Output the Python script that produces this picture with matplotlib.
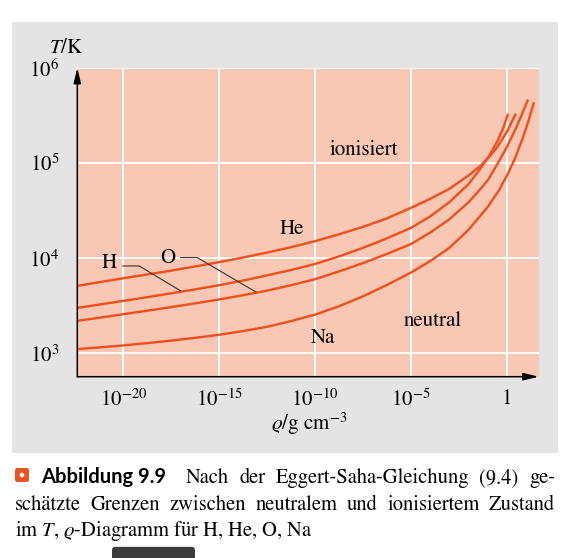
import numpy as np
import matplotlib.pyplot as plt
from matplotlib.patches import Rectangle, FancyBboxPatch, Ellipse

plt.rcParams['font.family'] = ['STIXGeneral', 'DejaVu Serif']
plt.rcParams['mathtext.fontset'] = 'stix'

# log10(rho / g cm^-3) and log10(T / K)
he_rho = [-22.4, -21.2, -20, -18.75, -17.5, -16.25, -15, -13.75, -12.5, -11.25, -10, -8.75,
          -7.5, -6.25, -5, -4, -3, -2, -1.36, -0.9, -0.5, 0, 0.46]
he_T = [3.71, 3.75, 3.79, 3.83, 3.87, 3.914, 3.96, 4.008, 4.06, 4.117, 4.18, 4.252,
        4.33, 4.42, 4.53, 4.625, 4.73, 4.87, 4.975, 5.07, 5.17, 5.33, 5.52]

h_rho = [-22.4, -21.2, -20, -18.75, -17.5, -16.25, -15, -13.75, -12.5, -11.25, -10, -8.75,
         -7.5, -6.25, -5, -4, -3, -2, -1.36, -0.9, -0.5, -0.2, 0.06]
h_T = [3.478, 3.515, 3.552, 3.591, 3.632, 3.673, 3.717, 3.766, 3.82, 3.877, 3.94, 4.02,
       4.11, 4.21, 4.32, 4.44, 4.59, 4.78, 4.95, 5.086, 5.23, 5.365, 5.52]

o_rho = [-22.4, -21.2, -20, -18.75, -17.5, -16.25, -15, -13.75, -12.5, -11.25, -10, -8.75,
         -7.5, -6.25, -5, -4, -3, -2, -1.5, -1, -0.5, 0, 0.5, 1.1]
o_T = [3.342, 3.376, 3.412, 3.449, 3.487, 3.526, 3.567, 3.612, 3.66, 3.717, 3.78, 3.862,
       3.95, 4.046, 4.15, 4.27, 4.41, 4.59, 4.70, 4.82, 4.99, 5.17, 5.38, 5.668]

na_rho = [-22.4, -21.2, -20, -18.75, -17.5, -16.25, -15, -13.75, -12.5, -11.25, -10, -8.75,
          -7.5, -6.25, -5, -4, -3, -2, -1, -0.4, 0, 0.4, 0.8, 1.1, 1.41]
na_T = [3.045, 3.064, 3.084, 3.108, 3.134, 3.164, 3.196, 3.235, 3.28, 3.34, 3.408, 3.496,
        3.60, 3.72, 3.85, 3.97, 4.11, 4.30, 4.54, 4.72, 4.87, 5.04, 5.25, 5.43, 5.64]

x_ticks = [1e-20, 1e-15, 1e-10, 1e-5, 1]
x_labels = ['$10^{-20}$', '$10^{-15}$', '$10^{-10}$', '$10^{-5}$', '1']
y_ticks = [1e3, 1e4, 1e5, 1e6]
y_labels = ['$10^{3}$', '$10^{4}$', '$10^{5}$', '$10^{6}$']

W, H = 577, 558
line_col = '#f04e1a'

fig = plt.figure(figsize=(W / 100, H / 100), dpi=100)

# grey panel behind the chart
fig.add_artist(Rectangle((11.8 / W, 1 - 452.7 / H), 545.9 / W, 430.4 / H,
                         transform=fig.transFigure, facecolor='#e4e4e4',
                         edgecolor='none', zorder=-1))

ax = fig.add_axes([77.3 / W, 1 - 376.7 / H, 461.3 / W, 308.7 / H])
ax.set_facecolor('#f9c8b5')
ax.set_xscale('log')
ax.set_yscale('log')
ax.set_xlim(10 ** -22.4, 10 ** 1.65)
ax.set_ylim(10 ** 2.755, 1e6)

ax.set_xticks(x_ticks)
ax.set_xticklabels(x_labels)
ax.set_yticks(y_ticks)
ax.set_yticklabels(y_labels)
ax.minorticks_off()
ax.tick_params(axis='both', length=0, labelsize=15)
ax.tick_params(axis='x', pad=9)
ax.tick_params(axis='y', pad=13)
ax.grid(True, color='white', lw=1.4)
ax.set_axisbelow(True)
for s in ax.spines.values():
    s.set_visible(False)

for rho, T in [(he_rho, he_T), (h_rho, h_T), (o_rho, o_T), (na_rho, na_T)]:
    ax.plot(10 ** np.array(rho), 10 ** np.array(T), color=line_col, lw=1.7,
            solid_capstyle='butt', solid_joinstyle='round')

# axis arrows
arrow = dict(arrowstyle='-|>,head_length=0.9,head_width=0.22', color='black',
             lw=1.1, shrinkA=0, shrinkB=0)
ax.annotate('', xy=(0, 1), xytext=(0, 0), xycoords='axes fraction', arrowprops=arrow)
ax.annotate('', xy=(1, 0), xytext=(0, 0), xycoords='axes fraction', arrowprops=arrow)

# labels inside the chart
fs = 15
ax.text(10 ** -5.675, 10 ** 5.088, 'ionisiert', fontsize=fs, ha='right', va='baseline')
ax.text(10 ** -11.2, 10 ** 4.252, 'He', fontsize=fs, ha='center', va='baseline')
ax.text(10 ** -3.87, 10 ** 3.287, 'neutral', fontsize=fs, ha='center', va='baseline')
ax.text(10 ** -9.57, 10 ** 3.111, 'Na', fontsize=fs, ha='center', va='baseline')
ax.text(10 ** -20.75, 10 ** 3.898, 'H', fontsize=fs, ha='center', va='baseline')
ax.text(10 ** -17.7, 10 ** 3.951, 'O', fontsize=fs, ha='center', va='baseline')

# leader lines
ax.plot(10 ** np.array([-20.03, -19.17, -17.01]), 10 ** np.array([3.919, 3.919, 3.657]),
        color='#333333', lw=0.8)
ax.plot(10 ** np.array([-17.01, -16.15, -13.09]), 10 ** np.array([4.007, 4.007, 3.646]),
        color='#333333', lw=0.8)

# axis titles
fig.text(66 / W, 1 - 48 / H, '$T$/K', fontsize=fs, ha='center', va='center')
fig.text(309 / W, 1 - 424 / H, r'$\varrho$/g cm$^{-3}$', fontsize=fs, ha='center', va='center')

# caption
renderer = fig.canvas.get_renderer()
cap_fs = 14.8


def justify(words, y, x0, x1):
    texts = [fig.text(0, 1 - y / H, w, fontsize=cap_fs, va='baseline') for w in words]
    widths = [t.get_window_extent(renderer).width for t in texts]
    gap = (x1 - x0 - sum(widths)) / (len(words) - 1)
    x = x0
    for t, w in zip(texts, widths):
        t.set_x(x / W)
        x += w + gap


fig.add_artist(FancyBboxPatch((15 / W, 1 - 482 / H), 14 / W, 14 / H,
                              boxstyle='round,pad=0,rounding_size=0.004',
                              transform=fig.transFigure, facecolor='#e9531f',
                              edgecolor='none'))
fig.add_artist(Ellipse((22 / W, 1 - 475 / H), 4.5 / W, 4.5 / H, transform=fig.transFigure,
                       facecolor='white', edgecolor='none'))
fig.text(41 / W, 1 - 483 / H, 'Abbildung 9.9', fontsize=14.5, fontweight='bold',
         family=['Lato', 'DejaVu Sans'], va='baseline')

justify(['Nach', 'der', 'Eggert-Saha-Gleichung', '(9.4)', 'ge-'], 483, 186, 555)
justify(['schätzte', 'Grenzen', 'zwischen', 'neutralem', 'und', 'ionisiertem', 'Zustand'],
        509.5, 15, 555)
fig.text(15 / W, 1 - 536 / H, r'im $T$, $\varrho$-Diagramm für H, He, O, Na',
         fontsize=cap_fs, va='baseline')

# dark tab cut off at the bottom edge
fig.add_artist(FancyBboxPatch((112 / W, -0.01), 83 / W, 0.03,
                              boxstyle='round,pad=0,rounding_size=0.006',
                              transform=fig.transFigure, facecolor='#3c3c3c',
                              edgecolor='none'))

fig.savefig('out.png', dpi=100)
